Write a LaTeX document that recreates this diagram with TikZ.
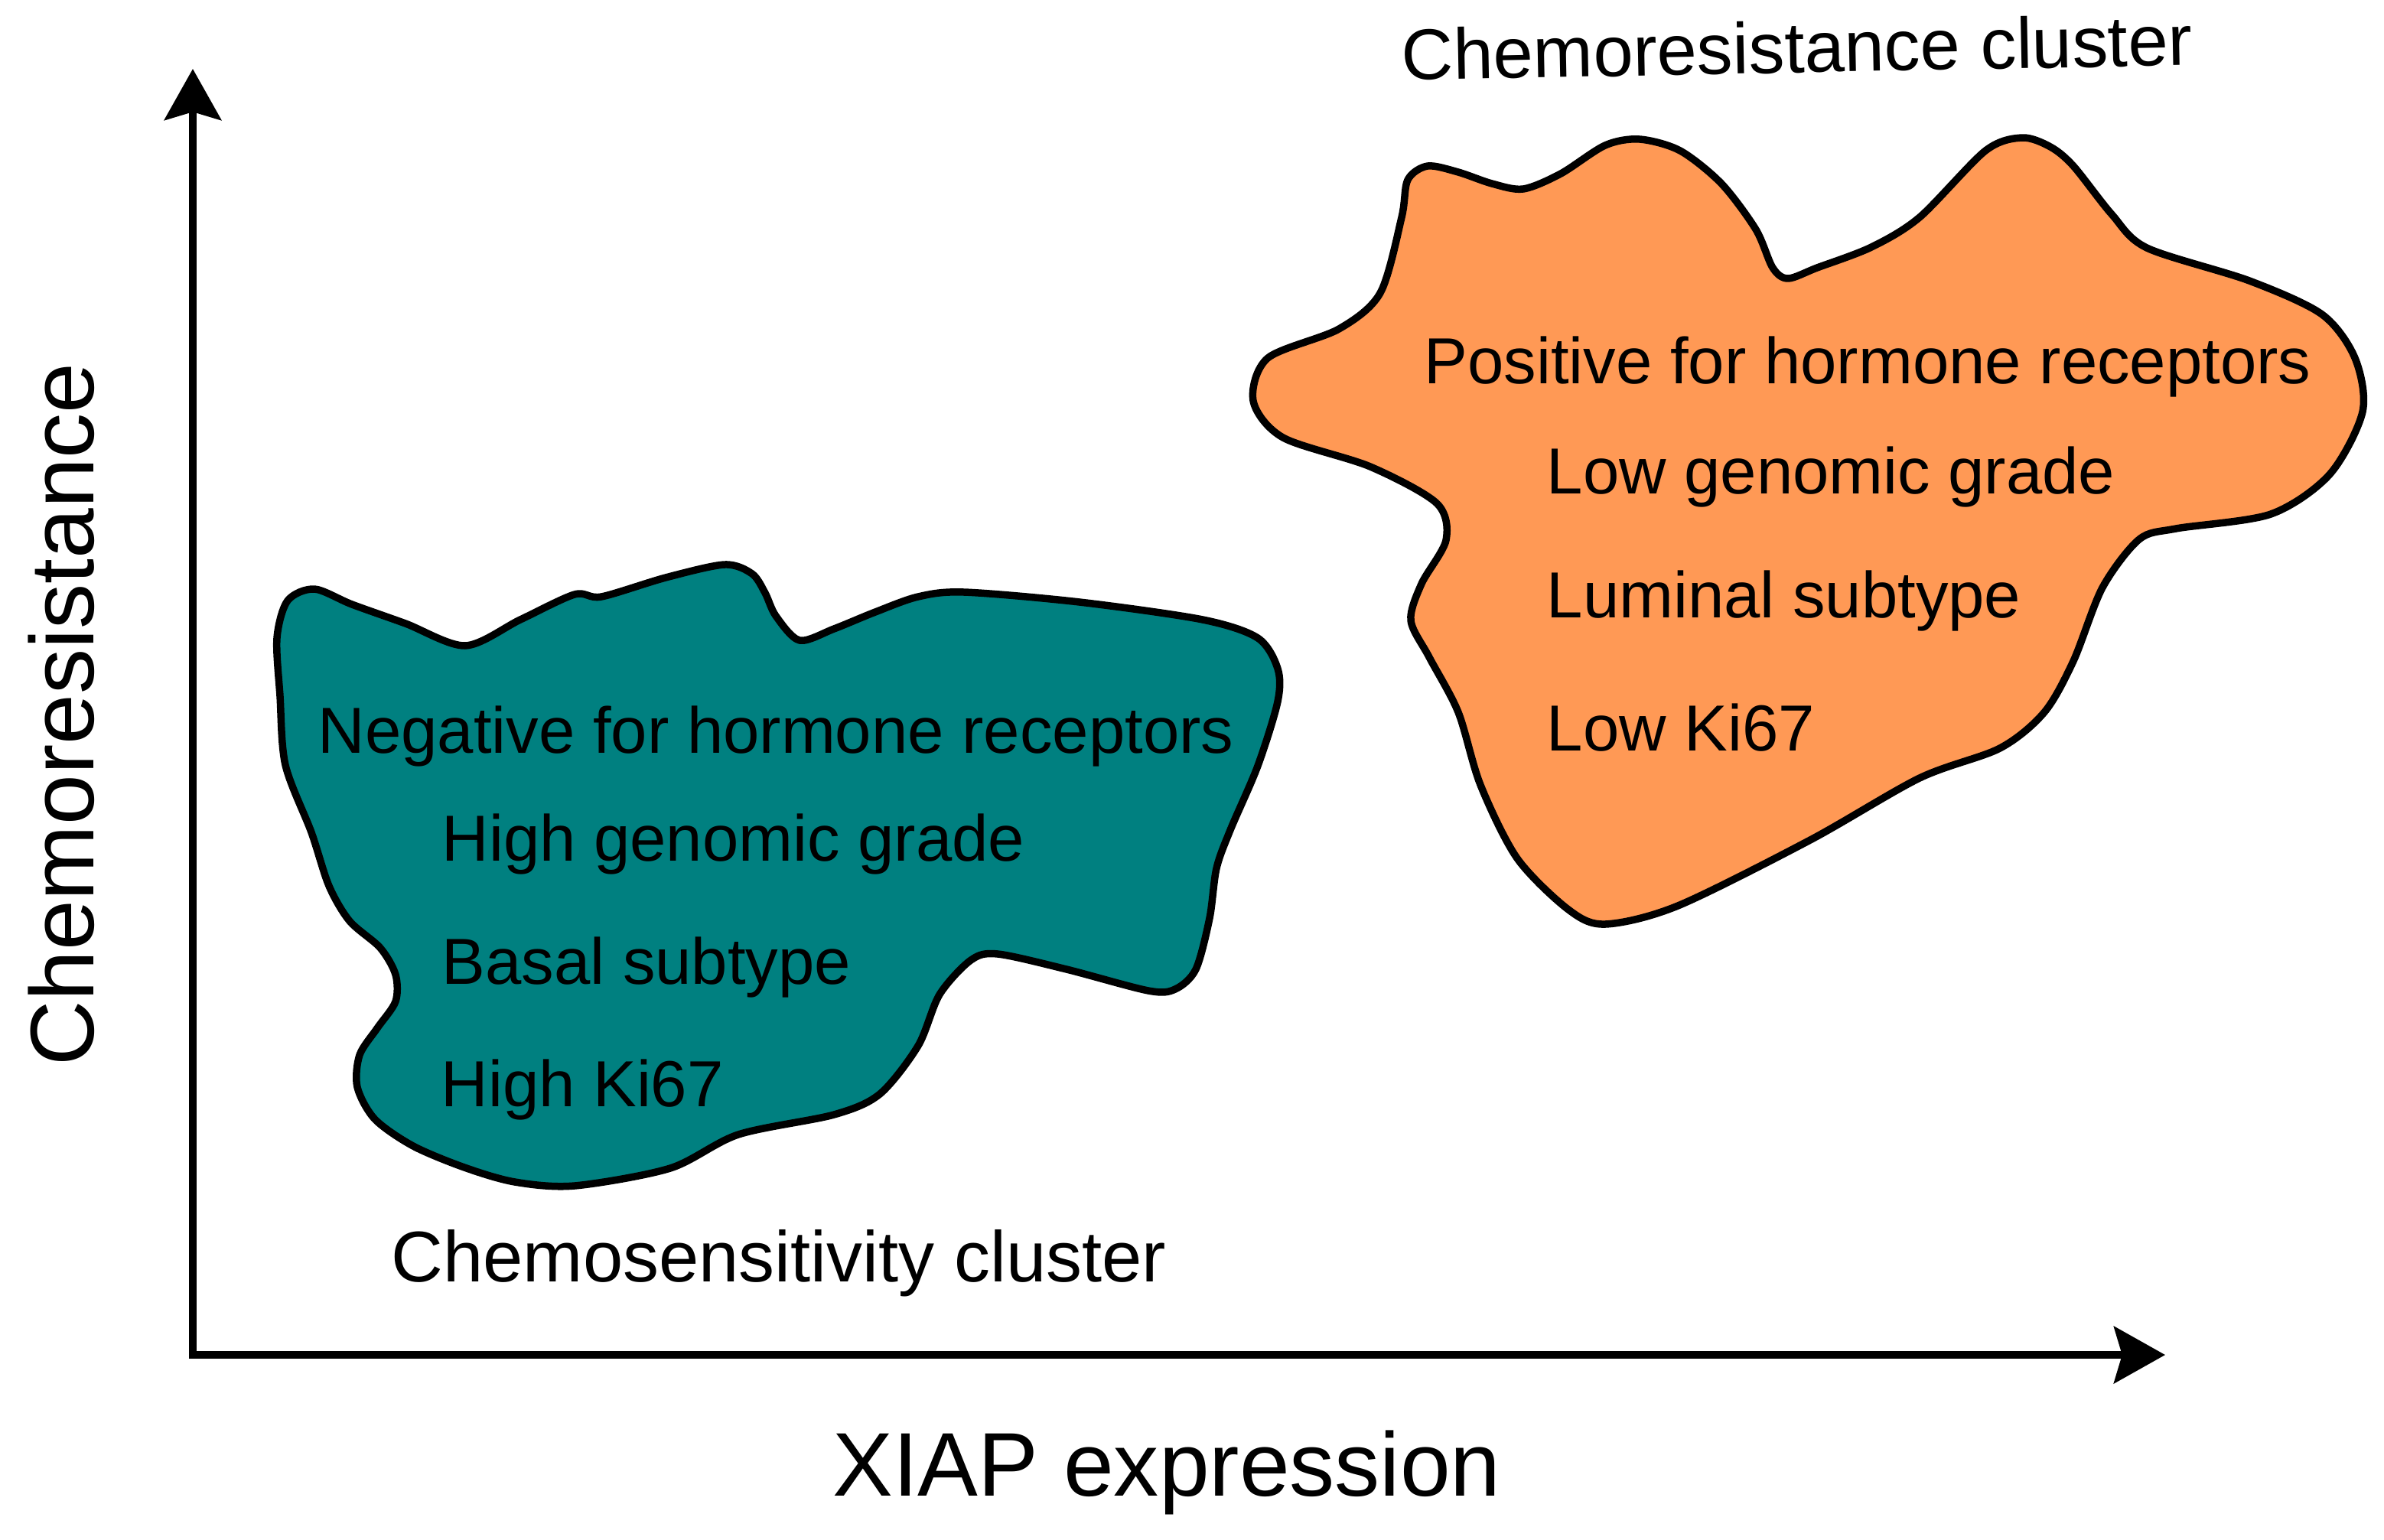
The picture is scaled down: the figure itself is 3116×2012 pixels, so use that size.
\documentclass[tikz,border=0pt]{standalone}
\usepackage{fontspec}
\setmainfont{Liberation Sans}
\usetikzlibrary{arrows.meta}
\definecolor{tealblob}{RGB}{0,128,128}
\definecolor{orangeblob}{RGB}{255,153,85}
\tikzset{
  axisline/.style={line width=3pt, arrows={Stealth[length=19pt,width=21pt,inset=3pt]-Stealth[length=19pt,width=21pt,inset=3pt]}},
  blob/.style={line width=2.7pt, line join=round},
  innertext/.style={anchor=base west, inner sep=0pt, font=\fontsize{24.2}{29}\selectfont},
  clustertext/.style={anchor=base west, inner sep=0pt, font=\fontsize{26.7}{32}\selectfont},
  axistext/.style={anchor=base, inner sep=0pt, font=\fontsize{33.6}{40}\selectfont}
}
\begin{document}
\begin{tikzpicture}[x=0.01cm, y=-0.01cm]
\useasboundingbox (0,0) rectangle (3116,2012);
% axes
\coordinate (ytip) at (252,90);
\coordinate (orig) at (252,1771);
\coordinate (xtip) at (2830,1771);
\draw[axisline] (ytip) -- (orig) -- (xtip);
% teal blob
\draw[blob, fill=tealblob] plot[smooth cycle, tension=0.5] coordinates {
(362,834) (376,785) (411,770) (460,790) (530,815) (608,844) (680,810) (751,777) (786,780)
(870,755) (947,738) (983,750) (1000,775) (1014,805) (1045,837) (1090,822) (1144,800)
(1200,780) (1260,774) (1411,787) (1572,810) (1644,834) (1670,874) (1670,917) (1644,1001)
(1608,1085) (1590,1135) (1581,1200) (1563,1267) (1536,1293) (1501,1295) (1394,1267)
(1304,1247) (1269,1255) (1228,1300) (1200,1367) (1150,1430) (1090,1457) (965,1483)
(876,1527) (751,1550) (673,1545) (607,1526) (540,1498) (490,1463) (467,1421) (470,1379)
(493,1344) (517,1309) (517,1274) (497,1239) (457,1204) (430,1158) (407,1088) (373,1000)
(366,910)};
% orange blob
\draw[blob, fill=orangeblob] plot[smooth cycle, tension=0.5] coordinates {
(1832,284) (1840,235) (1866,217) (1906,225) (1950,240) (1991,247) (2040,227) (2098,190)
(2143,182) (2196,197) (2250,240) (2295,300) (2317,350) (2337,364) (2375,350) (2446,323)
(2509,284) (2595,197) (2643,180) (2680,192) (2710,217) (2760,280) (2806,324) (2940,367)
(3035,411) (3078,468) (3088,538) (3045,620) (2968,672) (2844,691) (2796,705) (2748,768)
(2710,864) (2672,931) (2614,978) (2509,1017) (2366,1098) (2193,1184) (2098,1208)
(2050,1189) (1983,1122) (1935,1026) (1906,931) (1868,859) (1844,811) (1858,763)
(1890,706) (1878,658) (1791,610) (1677,572) (1638,524) (1657,468) (1750,430) (1804,383)};
% teal texts
\node[innertext] (neg) at (415,984) {Negative for hormone receptors};
\node[innertext] (hgg) at (577,1125) {High genomic grade};
\node[innertext] (bas) at (577,1286) {Basal subtype};
\node[innertext] (hki) at (576,1446) {High Ki67};
% orange texts
\node[innertext] (pos) at (1861,501) {Positive for hormone receptors};
\node[innertext] (lgg) at (2021,645) {Low genomic grade};
\node[innertext] (lum) at (2021,807) {Luminal subtype};
\node[innertext] (lki) at (2021,981) {Low Ki67};
% cluster labels
\node[clustertext, rotate=1.1] (rescl) at (1832,105) {Chemoresistance cluster};
\node[clustertext] (sencl) at (511,1675) {Chemosensitivity cluster};
% axis labels
\node[axistext] (xlab) at (1525,1955) {XIAP expression};
\node[axistext, rotate=90] (ylab) at (122,934) {Chemoresistance};
\end{tikzpicture}
\end{document}
